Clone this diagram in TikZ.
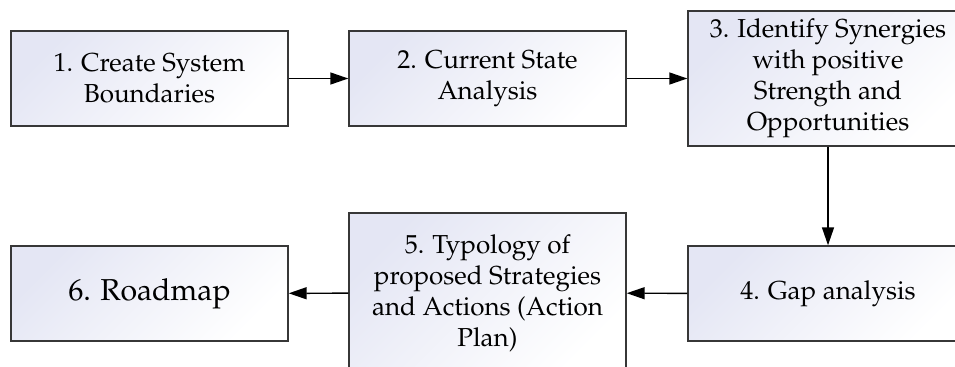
\documentclass[tikz,border=0pt]{standalone}
\usepackage[T1]{fontenc}
\usepackage{mathpazo}
\usetikzlibrary{arrows.meta}
\definecolor{boxfill}{RGB}{228,230,244}
\definecolor{boxline}{RGB}{55,55,55}
\begin{document}
\begin{tikzpicture}[x=0.75pt,y=-0.75pt,
  box/.style={draw=boxline, line width=1.05pt, rectangle, align=center,
    top color=boxfill, bottom color=white, shading angle=45,
    inner sep=0pt, font=\fontsize{19.5}{23.25}\selectfont},
  conn/.style={line width=1.1pt, -{Triangle[length=13.5pt,width=9pt]}}]
\useasboundingbox (0,0) rectangle (955,367);
\clip (0,0) rectangle (955,367);
\node[box, minimum width=207.75pt, minimum height=71.25pt] (b1) at (149.5,78.5) {1. Create System\\Boundaries};
\node[box, minimum width=207.75pt, minimum height=71.25pt] (b2) at (487.5,78.5) {2. Current State\\Analysis};
\node[box, minimum width=210pt, minimum height=101.25pt] (b3) at (828,78.5) {3. Identify Synergies\\with positive\\Strength and\\Opportunities};
\node[box, minimum width=210pt, minimum height=71.25pt] (b4) at (828,293.5) {4. Gap analysis};
\node[box, minimum width=207.75pt, minimum height=120pt] (b5) at (487.5,293) {5. Typology of\\proposed Strategies\\and Actions (Action\\Plan)};
\node[box, minimum width=207.75pt, minimum height=71.25pt, font=\fontsize{22.7}{27}\selectfont] (b6) at (149.5,293.5) {6. Roadmap};
\draw[conn] (b1) -- (b2);
\draw[conn] (b2) -- (b3);
\draw[conn] (b3) -- (b4);
\draw[conn] (b4) -- (b5);
\draw[conn] (b5) -- (b6);
\end{tikzpicture}
\end{document}
